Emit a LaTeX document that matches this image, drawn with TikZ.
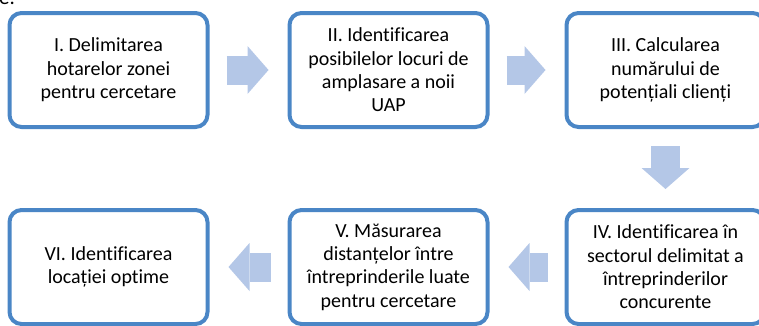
\documentclass[tikz,border=0pt]{standalone}
\usepackage{fontspec}
\setmainfont{Carlito}[Ligatures=NoCommon]
\usetikzlibrary{arrows.meta}
\definecolor{boxblue}{HTML}{4A86C6}
\definecolor{arrowblue}{HTML}{B4C7E7}
\tikzset{
  stepbox/.style={draw=boxblue, line width=4pt, rounded corners=12pt, fill=white,
    minimum width=198pt, minimum height=114pt, align=center,
    font=\fontsize{20}{23.4}\selectfont},
  flow/.style={draw=arrowblue, line width=29pt, shorten <=17pt, shorten >=19pt,
    -{Triangle[length=21pt,width=48pt,line width=0pt]}}
}
\begin{document}
\begin{tikzpicture}[x=1pt,y=-1pt]
      \useasboundingbox (0,0) rectangle (759,325);
      \node[anchor=base west, inner sep=0pt, font=\fontsize{21}{24}\selectfont] (e) at (-1,4) {e.};
      \draw
        (108.5,70) node[stepbox] (1){I. Delimitarea\\hotarelor zonei\\pentru cercetare}
        (388.5,70) node[stepbox] (2){II. Identificarea\\posibilelor locuri de\\amplasare a noii\\UAP}
        (665.5,70) node[stepbox] (3){III. Calcularea\\numărului de\\potențiali clienți}
        (665.5,267) node[stepbox] (4){IV. Identificarea în\\sectorul delimitat a\\întreprinderilor\\concurente}
        (388.5,267) node[stepbox] (5){V. Măsurarea\\distanțelor între\\întreprinderile luate\\pentru cercetare}
        (108.5,267) node[stepbox] (6){VI. Identificarea\\locației optime};
      \begin{scope}[flow]
        \draw (1) to (2);
        \draw (2) to (3);
        \draw (3) to (4);
        \draw (4) to (5);
        \draw (5) to (6);
      \end{scope}
    \end{tikzpicture}
\end{document}
